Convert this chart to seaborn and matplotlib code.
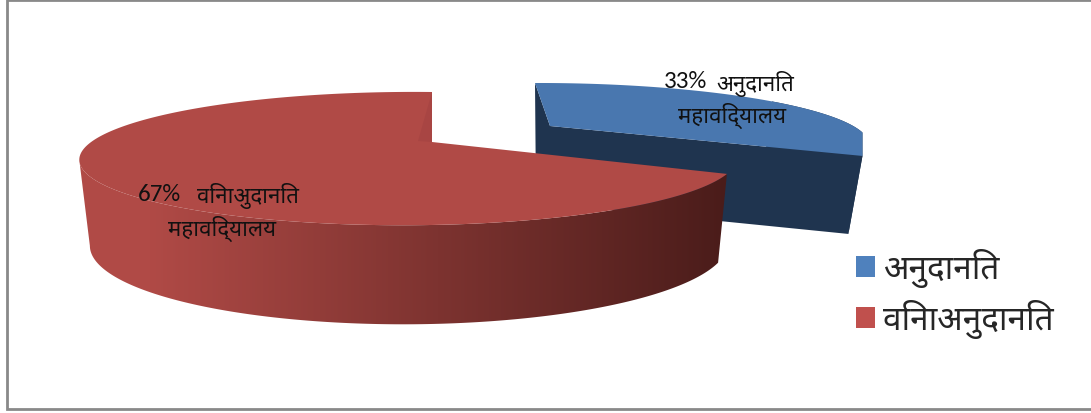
import numpy as np
import matplotlib
matplotlib.use('Agg')
import matplotlib.pyplot as plt
import seaborn as sns
from matplotlib.colors import to_rgb
from matplotlib.patches import Patch, Polygon

# ---- data ----
categories = ['अनुदानित', 'विनाअनुदानित']
shares = [33, 67]
percent_labels = ['33%', '67%']
slice_labels = [['अनुदानित', 'महाविद्यालय'], ['विनाअुदानित', 'महाविद्यालय']]
legend_colors = ['#4F81BD', '#C0504D']

sns.set_theme(style='white')
HINDI = ['Noto Sans Devanagari', 'Hind', 'Mukta', 'DejaVu Sans']
LATIN = ['Carlito', 'Lato', 'DejaVu Sans']

W, H = 1091, 414
fig = plt.figure(figsize=(W / 100, H / 100), dpi=100, facecolor='white')
ax = fig.add_axes([0, 0, 1, 1])

# chart border
ax.plot([1091, 7, 7, 1091], [1, 1, 410, 410], color='#898989', lw=2.0, solid_joinstyle='miter', zorder=1)


class Slice:
    """Perspective projection of a pie slice; t is the clockwise angle from 12 o'clock."""
    def __init__(self, cx, cy, a, b, k, m, sk, h, bot_x, bot_y):
        self.cx, self.cy, self.a, self.b, self.k, self.m = cx, cy, a, b, k, m
        self.sk, self.h, self.bot_x, self.bot_y = sk, h, bot_x, bot_y

    def top(self, t, r=1.0):
        u, v = np.sin(t) * r, np.cos(t) * r
        w = 1 + self.k * v + self.m * u
        return self.cx + (self.a * u + self.sk * v) / w, self.cy - self.b * v / w

    def bot(self, t, r=1.0):
        x, y = self.top(t, r)
        return self.cx + (x - self.cx) * self.bot_x, self.cy + self.h + (y - self.cy) * self.bot_y


total = sum(shares)
split = 2 * np.pi * shares[0] / total

blue = Slice(550, 127, 298, 53.75, 0.25, -0.017, -18.75, 78, 0.955, 1.0)
red = Slice(432, 143, 317, 62.4, 0.248, 0.07, 0, 82.4, 0.97, 1.2)

BLUE_TOP, BLUE_SIDE = '#4977AF', '#1F344F'
RED_TOP, RED_WALL = '#B04A46', '#A84543'
RED_DARK = np.array(to_rgb('#4A1C1A'))
RED_LIGHT = np.array(to_rgb(RED_TOP))

# ---- blue slice ----
tb = np.linspace(0, split, 200)
xe, ye = blue.top(split)
xf, yf = blue.bot(split)
# outer wall, right end (the rim is squared off at the cut)
te = np.linspace(split * 0.5, split, 60)
xs = np.r_[np.minimum(blue.top(te)[0], xe), np.minimum(blue.bot(te)[0], xf)[::-1]]
ys = np.r_[blue.top(te)[1], blue.bot(te)[1][::-1]]
ax.fill(xs, ys, color=BLUE_SIDE, lw=0, zorder=2)
# cut faces
x0, y0 = blue.top(0)
x1, y1 = blue.bot(0)
ax.fill([x0, blue.cx, blue.bot(0, 0)[0], x1], [y0, blue.cy, blue.bot(0, 0)[1], y1],
        color=BLUE_SIDE, lw=0, zorder=2)
ax.fill([blue.cx, xe, xf, blue.bot(0, 0)[0]], [blue.cy, ye, yf, blue.bot(0, 0)[1]],
        color=BLUE_SIDE, lw=0, zorder=2)
# top face
xt, yt = blue.top(tb)
ax.fill(np.r_[blue.cx, np.minimum(xt, xe)], np.r_[blue.cy, yt], color=BLUE_TOP, lw=0, zorder=3)

# ---- red slice ----
tr = np.linspace(split, 2 * np.pi, 500)
xtop, ytop = red.top(tr)
xbot, ybot = red.bot(tr)
# outer wall with horizontal gradient, drawn as an image clipped to the wall
vis = tr <= tr[np.argmin(xtop)]
wall = Polygon(np.c_[np.r_[xtop[vis], xbot[vis][::-1]], np.r_[ytop[vis], ybot[vis][::-1]]],
               closed=True, transform=ax.transData, facecolor='none', edgecolor='none')
ax.add_patch(wall)
xl, xr = 150, red.top(split)[0]
f = np.clip((np.arange(W) + 0.5 - xl) / (xr - xl), 0, 1)
grad = (RED_LIGHT + (RED_DARK - RED_LIGHT) * f[:, None])[None, :, :]
im = ax.imshow(grad, extent=[0, W, H, 0], aspect='auto', zorder=4, interpolation='nearest')
im.set_clip_path(wall)
# top face
ax.fill(np.r_[red.cx, xtop], np.r_[red.cy, ytop], color=RED_TOP, lw=0, zorder=5)
# inner facet near the gap
rx, ry = red.top(0)
ax.fill([rx, red.cx, red.cx - 14], [ry, red.cy, red.cy - 1], color=RED_WALL, lw=0, zorder=6)

# ---- labels ----
txt = dict(color='#111111', ha='left', va='center', zorder=8)
ax.text(664, 82, percent_labels[0], family=LATIN, fontsize=18, **txt)
ax.text(716, 84, slice_labels[0][0], family=HINDI, fontsize=16, **txt)
ax.text(678, 116, slice_labels[0][1], family=HINDI, fontsize=16, **txt)
ax.text(138, 195, percent_labels[1], family=LATIN, fontsize=18, **txt)
ax.text(197, 196, slice_labels[1][0], family=HINDI, fontsize=16, **txt)
ax.text(168, 229, slice_labels[1][1], family=HINDI, fontsize=16, **txt)

ax.set_xlim(0, W)
ax.set_ylim(H, 0)
ax.axis('off')

# ---- legend ----
handles = [Patch(facecolor=c, edgecolor='none') for c in legend_colors]
ax.legend(handles, categories, loc='upper left', bbox_to_anchor=(856 / W, 1 - 249 / H),
          bbox_transform=ax.transAxes, frameon=False, prop={'family': HINDI, 'size': 24},
          handlelength=0.58, handleheight=0.58, handletextpad=0.22, labelspacing=0.36,
          borderpad=0, borderaxespad=0)

fig.savefig('out.png', dpi=100)
